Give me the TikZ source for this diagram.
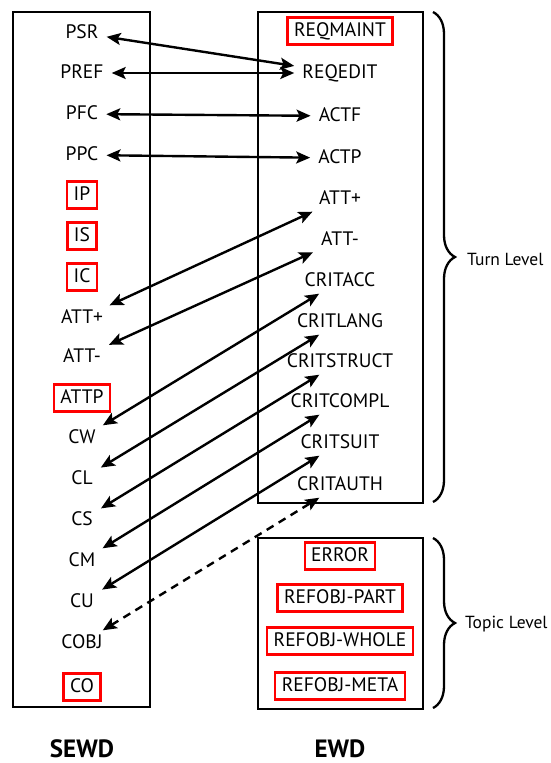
\documentclass[tikz,border=0pt]{standalone}
\usepackage{fontspec}
\setmainfont{PT Sans}
\usetikzlibrary{arrows.meta,decorations.pathreplacing}

\begin{document}
\begin{tikzpicture}[x=1pt,y=-1pt,
  lbl/.style={font=\fontsize{19.5}{22}\selectfont, inner xsep=8pt, inner ysep=4pt,
              text height=14pt, text depth=3pt},
  tagbox/.style={lbl, draw=red, line width=2.2pt, inner xsep=6.5pt, inner ysep=5pt},
  frame/.style={draw, line width=2.5pt},
  link/.style={line width=2.4pt, {Stealth[length=14pt,width=12pt,inset=3pt]}-{Stealth[length=14pt,width=12pt,inset=3pt]}},
  bracestyle/.style={line width=2.3pt, decorate, decoration={brace, amplitude=22pt}},
  title/.style={font=\fontsize{25}{28}\selectfont\bfseries, anchor=base, inner sep=0pt},
  side/.style={font=\fontsize{17.5}{20}\selectfont, anchor=west, inner sep=0pt}
]
\useasboundingbox (0,0) rectangle (550,763);

% column frames
\draw[frame] (13,12) rectangle (150,707);
\draw[frame] (258,12) rectangle (423,503);
\draw[frame] (258,538) rectangle (423,709);

% SEWD column
\node[lbl]    (psr)  at (82,33)  {PSR};
\node[lbl]    (pref) at (82,73)  {PREF};
\node[lbl]    (pfc)  at (82,114) {PFC};
\node[lbl]    (ppc)  at (82,155) {PPC};
\node[tagbox] (ip)   at (82,195) {IP};
\node[tagbox] (is)   at (82,236) {IS};
\node[tagbox] (ic)   at (82,277) {IC};
\node[lbl]    (attpl) at (82,318) {ATT+};
\node[lbl]    (attml) at (82,357) {ATT-};
\node[tagbox] (attp) at (82,398) {ATTP};
\node[lbl]    (cw)   at (82,438) {CW};
\node[lbl]    (cl)   at (82,479) {CL};
\node[lbl]    (cs)   at (82,520) {CS};
\node[lbl]    (cm)   at (82,561) {CM};
\node[lbl]    (cu)   at (82,602) {CU};
\node[lbl]    (cobj) at (82,643) {COBJ};
\node[tagbox] (co)   at (82,687) {CO};

% EWD turn-level column
\node[tagbox] (reqmaint) at (340,31)  {REQMAINT};
\node[lbl]    (reqedit)  at (340,73)  {REQEDIT};
\node[lbl]    (actf)     at (340,116) {ACTF};
\node[lbl]    (actp)     at (340,158) {ACTP};
\node[lbl]    (attpr)    at (340,199) {ATT+};
\node[lbl]    (attmr)    at (340,240) {ATT-};
\node[lbl]    (critacc)  at (340,281) {CRITACC};
\node[lbl]    (critlang) at (340,322) {CRITLANG};
\node[lbl]    (critstruct) at (340,362) {CRITSTRUCT};
\node[lbl]    (critcompl) at (340,402) {CRITCOMPL};
\node[lbl]    (critsuit) at (340,443) {CRITSUIT};
\node[lbl]    (critauth) at (340,485) {CRITAUTH};

% EWD topic-level column
\node[tagbox] (error)  at (340,556) {ERROR};
\node[tagbox] (rpart)  at (340,598) {REFOBJ-PART};
\node[tagbox] (rwhole) at (340,641) {REFOBJ-WHOLE};
\node[tagbox] (rmeta)  at (340,686) {REFOBJ-META};

% correspondences
\draw[link] (psr) -- (reqedit);
\draw[link] (pref) -- (reqedit);
\draw[link] (pfc) -- (actf);
\draw[link] (ppc) -- (actp);
\draw[link] (attpl) -- (attpr);
\draw[link] (attml) -- (attmr);
\draw[link] (cw) -- (critacc);
\draw[link] (cl) -- (critlang);
\draw[link] (cs) -- (critstruct);
\draw[link] (cm) -- (critcompl);
\draw[link] (cu) -- (critsuit);
\draw[link, dash pattern=on 8pt off 6pt] (cobj) -- (critauth);

% level braces
\draw[bracestyle] (433,12) -- (433,502);
\draw[bracestyle] (433,538) -- (433,708);
\node[side] (turn)  at (467,259) {Turn Level};
\node[side] (topic) at (465,624) {Topic Level};

% column titles
\node[title] (sewd) at (82,757) {SEWD};
\node[title] (ewd)  at (340,757) {EWD};
\end{tikzpicture}
\end{document}
